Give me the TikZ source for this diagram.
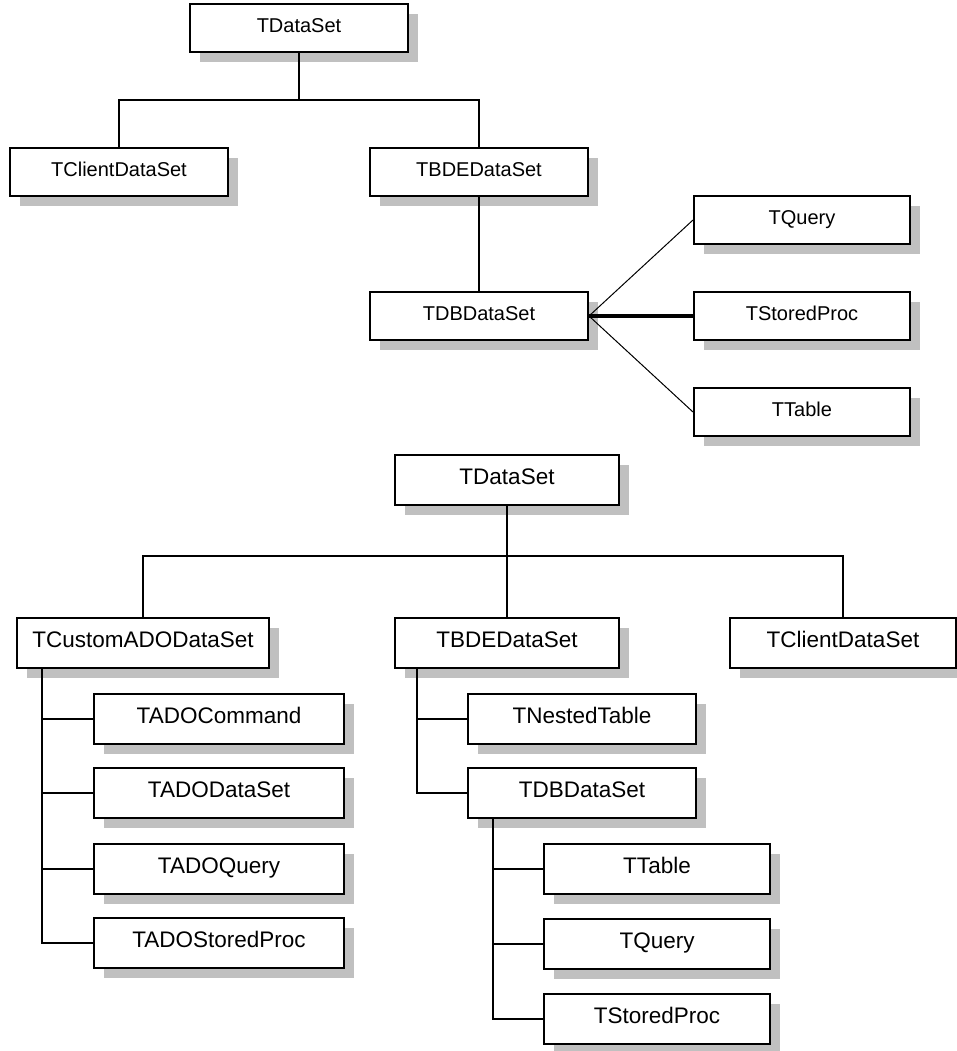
\documentclass[tikz,border=0pt]{standalone}
\usepackage{fontspec}
\setmainfont{Liberation Sans}
\usetikzlibrary{shadows}
\definecolor{shadowgray}{RGB}{192,192,192}
\begin{document}
\begin{tikzpicture}[x=1pt,y=-1pt,
  cls/.style={draw=black, line width=2pt, fill=white, inner sep=0pt,
    minimum height=48pt, text height=14.5pt, text depth=6pt,
    font=\fontsize{20}{22}\selectfont,
    drop shadow={shadow xshift=10pt, shadow yshift=-10pt, fill=shadowgray, opacity=1}},
  tall/.style={minimum height=50pt, text height=16.5pt, text depth=7pt,
    font=\fontsize{22.5}{26}\selectfont},
  link/.style={line width=2pt, line cap=rect},
  thinlink/.style={line width=1pt},
  boldlink/.style={line width=3.6pt}]
\useasboundingbox (0,0) rectangle (956,1051);

% ---- upper hierarchy ----
\node[cls, minimum width=218pt] (tds)   at (299,28)   {TDataSet};
\node[cls, minimum width=218pt] (tcds)  at (119,172)  {TClientDataSet};
\node[cls, minimum width=218pt] (tbde)  at (479,172)  {TBDEDataSet};
\node[cls, minimum width=218pt] (tdb)   at (479,316)  {TDBDataSet};
\node[cls, minimum width=216pt] (tq)    at (802,220)  {TQuery};
\node[cls, minimum width=216pt] (tsp)   at (802,316)  {TStoredProc};
\node[cls, minimum width=216pt] (tt)    at (802,412)  {TTable};

\coordinate (tfork) at (299,100);
\draw[link] (tds.south) -- (tfork);
\draw[link] (tfork) -| (tcds.north);
\draw[link] (tfork) -| (tbde.north);
\draw[link] (tbde.south) -- (tdb.north);
\draw[thinlink] (tdb.east) -- (tq.west);
\draw[boldlink] (tdb.east) -- (tsp.west);
\draw[thinlink] (tdb.east) -- (tt.west);

% ---- lower hierarchy ----
\node[cls, tall, minimum width=224pt] (bds)   at (507,480) {TDataSet};
\node[cls, tall, minimum width=252pt] (tcado) at (143,643) {TCustomADODataSet};
\node[cls, tall, minimum width=224pt] (bbde)  at (507,643) {TBDEDataSet};
\node[cls, tall, minimum width=226pt] (bcds)  at (843,643) {TClientDataSet};

\node[cls, tall, minimum width=250pt] (acmd)  at (219,719) {TADOCommand};
\node[cls, tall, minimum width=250pt] (ads)   at (219,793) {TADODataSet};
\node[cls, tall, minimum width=250pt] (aq)    at (219,869) {TADOQuery};
\node[cls, tall, minimum width=250pt] (asp)   at (219,943) {TADOStoredProc};

\node[cls, tall, minimum width=228pt] (nest)  at (582,719) {TNestedTable};
\node[cls, tall, minimum width=228pt] (bdb)   at (582,793) {TDBDataSet};

\node[cls, tall, minimum width=226pt] (btt)   at (657,869)  {TTable};
\node[cls, tall, minimum width=226pt] (btq)   at (657,944)  {TQuery};
\node[cls, tall, minimum width=226pt] (btsp)  at (657,1019) {TStoredProc};

\coordinate (bfork) at (507,556);
\draw[link] (bds.south) -- (bbde.north);
\draw[link] (bfork) -| (tcado.north);
\draw[link] (bfork) -| (bcds.north);

\coordinate (astem) at ([xshift=26pt]tcado.south west);
\draw[link] (astem) |- (asp.west);
\draw[link] (astem) |- (acmd.west);
\draw[link] (astem) |- (ads.west);
\draw[link] (astem) |- (aq.west);

\coordinate (dstem) at ([xshift=23pt]bbde.south west);
\draw[link] (dstem) |- (bdb.west);
\draw[link] (dstem) |- (nest.west);

\coordinate (qstem) at ([xshift=26pt]bdb.south west);
\draw[link] (qstem) |- (btsp.west);
\draw[link] (qstem) |- (btt.west);
\draw[link] (qstem) |- (btq.west);
\end{tikzpicture}
\end{document}
